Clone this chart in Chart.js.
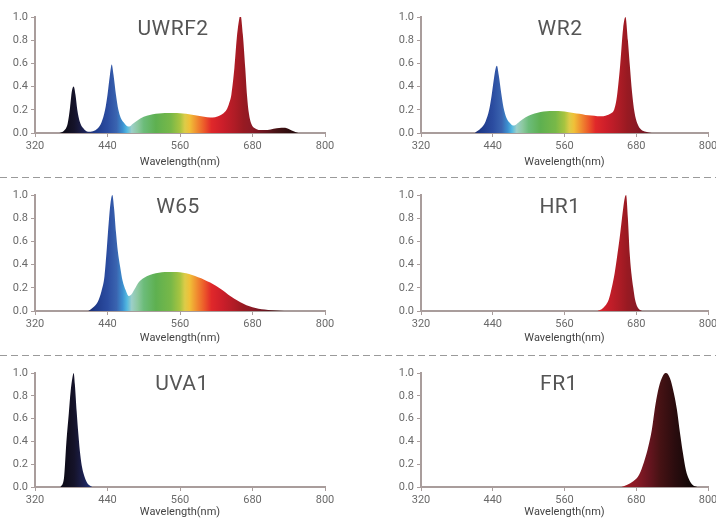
<!DOCTYPE html>
<html>
<head>
<meta charset="utf-8">
<script src="https://cdn.jsdelivr.net/npm/chart.js@4"></script>
<style>
  html, body { margin: 0; padding: 0; background: #fff; overflow: hidden; }
  body { width: 716px; height: 519px; position: relative; }
  canvas { position: absolute; }
  .name { position: absolute; font-family: Roboto, sans-serif; font-size: 21px; line-height: 21px;
          color: #555; transform: translate(-50%, -50%); white-space: nowrap; letter-spacing: 0.5px; }
  .dash { position: absolute; left: 0; width: 716px; height: 1px;
          background: repeating-linear-gradient(to right, #9a9a9a 0 7px, transparent 7px 11px); }
</style>
</head>
<body>
<div class="dash" style="top:177px"></div>
<div class="dash" style="top:355px"></div>

<script>
// tick labels
var wavelengthTicks = [320, 440, 560, 680, 800];
var intensityTicks = [0, 0.2, 0.4, 0.6, 0.8, 1.0];

// spectra (nm -> relative intensity)
var uwrf2Nm  = [360, 368, 374, 378, 381, 384, 387, 390, 394, 400, 408, 416, 424, 430, 436, 440, 444, 447, 450, 454, 458, 462, 467, 472, 476, 482, 490, 500, 510, 520, 530, 540, 550, 560, 570, 580, 590, 600, 610, 618, 626, 632, 637, 641, 645, 650, 654, 657, 660, 664, 668, 671, 674, 678, 684, 692, 700, 710, 720, 728, 734, 740, 748, 756];
var uwrf2Val = [0, 0.02, 0.08, 0.22, 0.36, 0.40, 0.33, 0.2, 0.1, 0.04, 0.01, 0.015, 0.04, 0.09, 0.2, 0.33, 0.5, 0.59, 0.5, 0.33, 0.2, 0.13, 0.09, 0.06, 0.055, 0.08, 0.11, 0.14, 0.155, 0.165, 0.17, 0.172, 0.172, 0.17, 0.165, 0.157, 0.148, 0.14, 0.133, 0.135, 0.15, 0.17, 0.2, 0.25, 0.33, 0.56, 0.82, 0.95, 1.02, 0.85, 0.56, 0.32, 0.17, 0.08, 0.04, 0.025, 0.025, 0.03, 0.04, 0.046, 0.045, 0.035, 0.015, 0];

var wr2Nm  = [410, 420, 428, 434, 438, 442, 445, 447, 450, 454, 458, 463, 468, 474, 478, 485, 495, 505, 515, 525, 535, 545, 555, 565, 575, 585, 595, 605, 615, 625, 632, 638, 643, 647, 650, 653, 658, 662, 666, 669, 673, 677, 682, 688, 696, 706];
var wr2Val = [0, 0.04, 0.1, 0.2, 0.32, 0.47, 0.56, 0.58, 0.5, 0.35, 0.22, 0.13, 0.09, 0.065, 0.07, 0.1, 0.135, 0.16, 0.175, 0.185, 0.19, 0.19, 0.187, 0.18, 0.172, 0.165, 0.155, 0.15, 0.145, 0.145, 0.155, 0.17, 0.2, 0.29, 0.42, 0.58, 0.9, 1.0, 0.8, 0.6, 0.35, 0.18, 0.08, 0.03, 0.01, 0];

var w65Nm  = [408, 416, 424, 430, 435, 439, 442, 445, 448, 451, 454, 457, 461, 465, 470, 475, 479, 485, 492, 500, 510, 520, 530, 540, 550, 560, 570, 580, 590, 600, 610, 620, 630, 640, 650, 660, 670, 680, 690, 700, 712, 725, 740];
var w65Val = [0, 0.03, 0.08, 0.17, 0.3, 0.55, 0.76, 0.93, 1.0, 0.88, 0.68, 0.52, 0.38, 0.26, 0.18, 0.13, 0.14, 0.19, 0.25, 0.285, 0.31, 0.325, 0.333, 0.336, 0.336, 0.333, 0.325, 0.31, 0.29, 0.27, 0.245, 0.215, 0.18, 0.14, 0.105, 0.075, 0.05, 0.033, 0.02, 0.012, 0.006, 0.002, 0];

var hr1Nm  = [615, 622, 628, 634, 639, 644, 648, 652, 655, 658, 661, 663, 666, 669, 672, 675, 678, 682, 686, 690];
var hr1Val = [0, 0.015, 0.045, 0.1, 0.2, 0.33, 0.47, 0.62, 0.75, 0.88, 0.98, 1.0, 0.8, 0.5, 0.32, 0.2, 0.1, 0.035, 0.01, 0];

var uva1Nm  = [362, 368, 372, 376, 379, 382, 384, 386, 389, 392, 395, 398, 402, 406, 410, 415];
var uva1Val = [0, 0.08, 0.4, 0.65, 0.84, 0.96, 1.0, 0.9, 0.66, 0.45, 0.28, 0.17, 0.09, 0.04, 0.015, 0];

var fr1Nm  = [655, 665, 675, 685, 693, 700, 706, 712, 718, 724, 729, 733, 738, 743, 748, 753, 758, 763, 768, 774, 782];
var fr1Val = [0, 0.02, 0.05, 0.11, 0.22, 0.35, 0.5, 0.72, 0.88, 0.97, 1.0, 0.99, 0.93, 0.82, 0.68, 0.48, 0.3, 0.15, 0.07, 0.02, 0];

// wavelength colour ramp for the fill
var stopNm    = [320, 370, 385, 400, 420, 440, 455, 465, 472, 480, 490, 500, 520, 545, 560, 568, 576, 588, 600, 612, 630, 650, 665, 680, 700, 720, 745, 770, 800];
var stopColor = ['#0b0a14', '#0e0c1a', '#15132a', '#1c2050', '#1f3a8a', '#2b4ca0', '#3a64b0', '#3c90d0', '#52b8e0', '#9ccfc8', '#8cc8a0', '#6cbc7a', '#5eb050', '#78b848', '#a8c440', '#dccc48', '#f0c038', '#f08c30', '#ec5a2a', '#e0282a', '#cc1e2a', '#b01c26', '#981a22', '#8a1a26', '#6a1520', '#461214', '#2a0c0e', '#140808', '#0a0505'];

function spectrumFill(ctx) {
  var chart = ctx.chart;
  if (!chart.chartArea) return '#888';
  var xs = chart.scales.x;
  var x0 = xs.getPixelForValue(320), x1 = xs.getPixelForValue(800);
  var g = chart.ctx.createLinearGradient(x0, 0, x1, 0);
  stopNm.forEach(function(nm, i) {
    g.addColorStop((nm - 320) / 480, stopColor[i]);
  });
  return g;
}

var rows = [
  {top: 0,   h: 177, padTop: 17, padBottom: 8,  xHeight: 36},
  {top: 177, h: 178, padTop: 18, padBottom: 10, xHeight: 34},
  {top: 355, h: 164, padTop: 18, padBottom: 0,  xHeight: 32}
];
var sides = {
  left:  {left: 0,   w: 358, padLeft: 0,  padRight: 33, cx: 0},
  right: {left: 358, w: 370, padLeft: 28, padRight: 20, cx: 0}
};

var panels = [
  {name: 'UWRF2', nm: uwrf2Nm, val: uwrf2Val, side: 'left',  row: 0, tx: 173, ty: 28},
  {name: 'WR2',   nm: wr2Nm,   val: wr2Val,   side: 'right', row: 0, tx: 560, ty: 28},
  {name: 'W65',   nm: w65Nm,   val: w65Val,   side: 'left',  row: 1, tx: 178, ty: 206},
  {name: 'HR1',   nm: hr1Nm,   val: hr1Val,   side: 'right', row: 1, tx: 560, ty: 206},
  {name: 'UVA1',  nm: uva1Nm,  val: uva1Val,  side: 'left',  row: 2, tx: 182, ty: 383},
  {name: 'FR1',   nm: fr1Nm,   val: fr1Val,   side: 'right', row: 2, tx: 559, ty: 383}
];

var axisColor = '#a99d9c';

panels.forEach(function(p) {
  var r = rows[p.row], s = sides[p.side];

  var cv = document.createElement('canvas');
  cv.width = s.w; cv.height = r.h;
  cv.style.left = s.left + 'px';
  cv.style.top = r.top + 'px';
  document.body.appendChild(cv);

  var label = document.createElement('div');
  label.className = 'name';
  label.textContent = p.name;
  label.style.left = p.tx + 'px';
  label.style.top = p.ty + 'px';
  document.body.appendChild(label);

  var points = p.nm.map(function(nm, i) { return {x: nm, y: p.val[i]}; });

  new Chart(cv, {
    type: 'line',
    data: {
      datasets: [{
        label: p.name,
        data: points,
        fill: 'origin',
        backgroundColor: spectrumFill,
        borderWidth: 0,
        pointRadius: 0,
        tension: 0.4,
        cubicInterpolationMode: 'monotone',
        clip: false
      }]
    },
    options: {
      responsive: false,
      animation: false,
      events: [],
      layout: {padding: {top: r.padTop, bottom: r.padBottom, left: s.padLeft, right: s.padRight}},
      plugins: {legend: {display: false}, tooltip: {enabled: false}},
      scales: {
        x: {
          type: 'linear',
          min: 320, max: 800,
          z: 1,
          afterBuildTicks: function(scale) {
            scale.ticks = wavelengthTicks.map(function(v) { return {value: v}; });
          },
          afterFit: function(scale) { scale.height = r.xHeight; },
          grid: {drawOnChartArea: false, drawTicks: true, tickLength: 4, color: axisColor},
          border: {color: axisColor, width: 2},
          ticks: {padding: 3, maxRotation: 0, color: '#6a6a6a', font: {family: 'Roboto', size: 11}},
          title: {display: true, text: 'Wavelength(nm)', color: '#444', padding: {top: 0, bottom: 0},
                  font: {family: 'Roboto', size: 11}}
        },
        y: {
          min: 0, max: 1,
          afterBuildTicks: function(scale) {
            scale.ticks = intensityTicks.map(function(v) { return {value: v}; });
          },
          afterFit: function(scale) { scale.width = 35; },
          grid: {drawOnChartArea: false, drawTicks: true, tickLength: 4, color: axisColor},
          border: {color: axisColor, width: 2},
          ticks: {
            padding: 3, color: '#6a6a6a', font: {family: 'Roboto', size: 11},
            callback: function(v) { return Number(v).toFixed(1); }
          }
        }
      }
    }
  });
});
</script>
</body>
</html>
